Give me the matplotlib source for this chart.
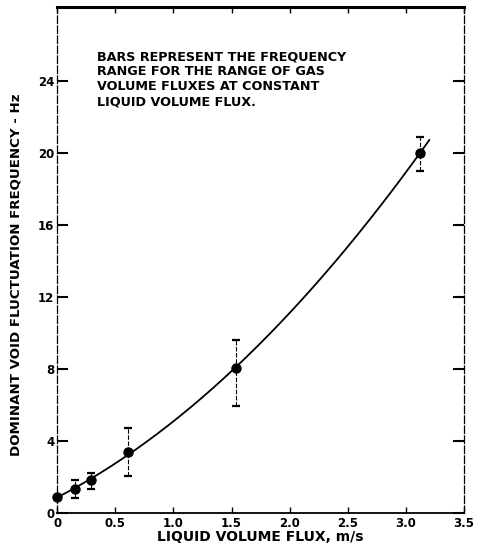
import numpy as np
import matplotlib
matplotlib.use("Agg")
import matplotlib.pyplot as plt

# Frecuencia dominante de fluctuación de vacío frente al flujo de líquido
flujo_liquido = [0.0, 0.15, 0.29, 0.61, 1.54, 3.12]
frecuencia = [0.9, 1.3, 1.8, 3.4, 8.05, 20.0]
frec_min = [0.9, 0.85, 1.3, 2.05, 5.95, 19.0]
frec_max = [0.9, 1.8, 2.2, 4.7, 9.6, 20.9]

ticks_x = [0, 0.5, 1.0, 1.5, 2.0, 2.5, 3.0, 3.5]
etiquetas_x = ["0", "0.5", "1.0", "1.5", "2.0", "2.5", "3.0", "3.5"]
ticks_y = [0, 4, 8, 12, 16, 20, 24]

nota = ("BARS REPRESENT THE FREQUENCY\n"
        "RANGE FOR THE RANGE OF GAS\n"
        "VOLUME FLUXES AT CONSTANT\n"
        "LIQUID VOLUME FLUX.")

plt.rcParams["font.family"] = ["DejaVu Sans"]
plt.rcParams["font.weight"] = "bold"

fig = plt.figure(figsize=(4.8, 5.45), dpi=100)
ax = fig.add_axes([0.119, 0.059, 0.848, 0.928])

# Barras de rango
x = np.array(flujo_liquido)
y = np.array(frecuencia)
err = [y - np.array(frec_min), np.array(frec_max) - y]
_, caps, barras = ax.errorbar(x[1:], y[1:], yerr=[err[0][1:], err[1][1:]],
                              fmt="none", ecolor="black", elinewidth=0.8,
                              capsize=3, capthick=1.6)
for b in barras:
    b.set_linestyle((0, (4, 1.5)))

ax.plot(x, y, "o", color="black", markersize=6.5, clip_on=False, zorder=3)

# Curva ajustada
coef = np.polyfit(x, y, 2)
xs = np.linspace(0, 3.2, 200)
ax.plot(xs, np.polyval(coef, xs), color="black", linewidth=1.3)

ax.set_xlim(0, 3.5)
ax.set_ylim(0, 28.1)
ax.set_xticks(ticks_x)
ax.set_xticklabels(etiquetas_x)
ax.set_yticks(ticks_y)
ax.tick_params(axis="y", direction="in", length=8, width=1.5,
               right=True, labelsize=8.5, pad=2)
ax.tick_params(axis="x", direction="in", length=4, width=1.0,
               top=True, labelsize=8.5, pad=3)

ax.spines["top"].set_linewidth(2.2)
ax.spines["bottom"].set_linewidth(1.3)
for lado in ("left", "right"):
    ax.spines[lado].set_linewidth(0.9)
    ax.spines[lado].set_linestyle((0, (6, 2)))

ax.text(0.098, 0.915, nota, transform=ax.transAxes, fontsize=9.2,
        fontweight="bold", va="top", ha="left", linespacing=1.22)

ax.set_xlabel("LIQUID VOLUME FLUX, m/s", fontsize=10, fontweight="bold",
              labelpad=0)
ax.set_ylabel("DOMINANT VOID FLUCTUATION FREQUENCY - Hz", fontsize=9.6,
              fontweight="bold", labelpad=5)
ax.yaxis.set_label_coords(-0.085, 0.47)

fig.savefig("out.png", dpi=100)
